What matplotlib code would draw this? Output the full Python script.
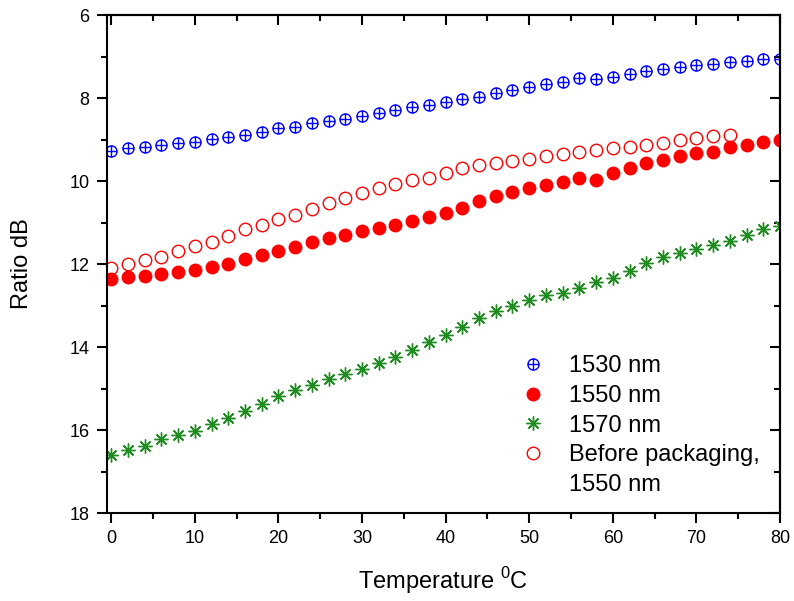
import numpy as np
import matplotlib
matplotlib.use('Agg')
import matplotlib.pyplot as plt
from matplotlib.path import Path
from matplotlib.lines import Line2D

plt.rcParams['font.family'] = ['Liberation Sans', 'DejaVu Sans']
plt.rcParams['mathtext.fontset'] = 'custom'
plt.rcParams['mathtext.rm'] = 'Liberation Sans'

# Data (temperature in degC, ratio in dB)
temp = np.arange(0, 82, 2)

r1530 = [9.27, 9.21, 9.17, 9.12, 9.09, 9.05, 8.99, 8.93, 8.88, 8.81,
         8.73, 8.69, 8.61, 8.55, 8.50, 8.43, 8.35, 8.29, 8.21, 8.17,
         8.09, 8.02, 7.98, 7.89, 7.81, 7.74, 7.67, 7.62, 7.51, 7.54,
         7.50, 7.42, 7.35, 7.30, 7.25, 7.20, 7.17, 7.13, 7.10, 7.07, 7.05]

r1550 = [12.37, 12.32, 12.29, 12.24, 12.19, 12.15, 12.07, 11.99, 11.89, 11.79,
         11.68, 11.58, 11.46, 11.38, 11.30, 11.20, 11.14, 11.05, 10.96, 10.86,
         10.76, 10.64, 10.49, 10.36, 10.27, 10.16, 10.09, 10.02, 9.93, 9.97,
         9.81, 9.69, 9.56, 9.49, 9.40, 9.33, 9.31, 9.19, 9.12, 9.07, 9.00]

r1570 = [16.60, 16.48, 16.38, 16.21, 16.13, 16.02, 15.86, 15.71, 15.54, 15.37,
         15.17, 15.03, 14.91, 14.78, 14.65, 14.53, 14.38, 14.23, 14.07, 13.89,
         13.70, 13.52, 13.30, 13.13, 13.01, 12.87, 12.75, 12.69, 12.57, 12.44,
         12.33, 12.16, 11.97, 11.84, 11.74, 11.64, 11.55, 11.44, 11.30, 11.16, 11.08]

# before packaging only goes to 74 C
r1550_before = [12.09, 11.99, 11.91, 11.83, 11.69, 11.56, 11.47, 11.33, 11.16, 11.06,
                10.92, 10.82, 10.68, 10.53, 10.40, 10.28, 10.18, 10.08, 9.98, 9.92,
                9.80, 9.69, 9.62, 9.57, 9.52, 9.47, 9.40, 9.34, 9.31, 9.25,
                9.21, 9.17, 9.14, 9.09, 9.01, 8.96, 8.91, 8.88]

labels = ['1530 nm', '1550 nm', '1570 nm', 'Before packaging,', '1550 nm']

# circle with a plus inside
circ_plus = Path.make_compound_path(
    Path.unit_circle(),
    Path([[-1, 0], [1, 0]], [Path.MOVETO, Path.LINETO]),
    Path([[0, -1], [0, 1]], [Path.MOVETO, Path.LINETO]))

fig = plt.figure(figsize=(7.94, 6.01), dpi=100)
ax = fig.add_axes([0.1348, 0.1464, 0.8476, 0.8286])

h1, = ax.plot(temp, r1530, ls='none', marker=circ_plus, ms=8, mfc='none',
              mec='#0000ff', mew=1.0)
h2, = ax.plot(temp, r1550, ls='none', marker='o', ms=9, mfc='#ff0000',
              mec='#ff0000')
h3, = ax.plot(temp, r1570, ls='none', marker=(8, 2, 0), ms=10,
              mec='#1e8c1e', mew=1.0)
h4, = ax.plot(temp[:len(r1550_before)], r1550_before, ls='none', marker='o',
              ms=9, mfc='none', mec='#ff0000', mew=1.0)
# second line of the last legend label, no marker
h5 = Line2D([], [], ls='none', marker=None)

ax.set_xlim(-0.5, 80)
ax.set_ylim(18, 6)
ax.set_xticks(np.arange(0, 81, 10))
ax.set_xticks(np.arange(5, 80, 10), minor=True)
ax.set_yticks(np.arange(6, 19, 2))
ax.set_yticks(np.arange(7, 18, 2), minor=True)

for s in ax.spines.values():
    s.set_linewidth(1.5)
ax.tick_params(which='both', direction='out', width=1.5, labelsize=13, pad=5.5)
ax.tick_params(which='major', length=7)
ax.tick_params(which='minor', length=4)

# inward ticks on top and right
ax_t = ax.secondary_xaxis('top')
ax_t.set_xticks(np.arange(0, 81, 10))
ax_t.set_xticks(np.arange(5, 80, 10), minor=True)
ax_t.tick_params(which='both', direction='in', width=1.5, labeltop=False)
ax_t.tick_params(which='major', length=7)
ax_t.tick_params(which='minor', length=4)
ax_t.spines['top'].set_linewidth(1.5)
ax_r = ax.secondary_yaxis('right')
ax_r.set_yticks(np.arange(6, 19, 2))
ax_r.set_yticks(np.arange(7, 18, 2), minor=True)
ax_r.tick_params(which='both', direction='in', width=1.5, labelright=False)
ax_r.tick_params(which='major', length=7)
ax_r.tick_params(which='minor', length=4)
ax_r.spines['right'].set_linewidth(1.5)

ax.set_xlabel('Temperature $^{\\mathregular{0}}$C', fontsize=17, labelpad=13)
ax.set_ylabel('Ratio dB', fontsize=17, labelpad=26)

ax.legend([h1, h2, h3, h4, h5], labels, loc='upper left',
          bbox_to_anchor=(0.584, 0.36), frameon=False, fontsize=17,
          handlelength=1.0, handletextpad=1.0, labelspacing=0.33)

fig.savefig('out.png', dpi=100)
